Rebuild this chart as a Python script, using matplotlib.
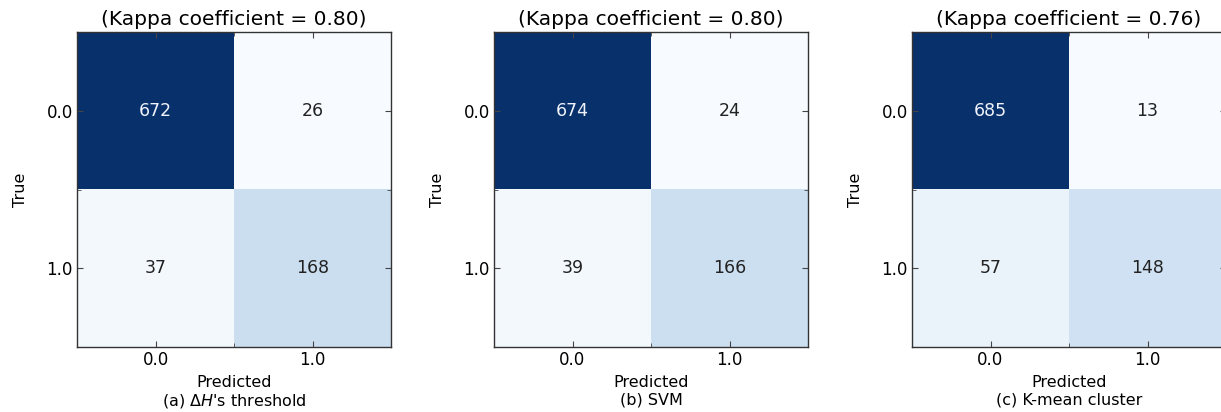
import numpy as np
import matplotlib
matplotlib.use("Agg")
from matplotlib import pyplot as plt

# Matrizes de confusão (linhas = True, colunas = Predicted)
cm_threshold = [[672, 26], [37, 168]]
cm_svm = [[674, 24], [39, 166]]
cm_kmean = [[685, 13], [57, 148]]

kappas = [0.80, 0.80, 0.76]
subtitles = ["(a) $\\Delta H$'s threshold", "(b) SVM", "(c) K-mean cluster"]
classes = ["0.0", "1.0"]

# Posições dos eixos em pixels (esquerda, topo) na imagem 1221x412
W, H = 1221, 412
lefts = [77, 494, 912]
top, ax_w, ax_h = 32, 314, 315

fig = plt.figure(figsize=(W / 100, H / 100), dpi=100)

for cm, kappa, sub, left in zip([cm_threshold, cm_svm, cm_kmean], kappas, subtitles, lefts):
    cm = np.array(cm)
    ax = fig.add_axes([left / W, (H - top - ax_h) / H, ax_w / W, ax_h / H])
    ax.imshow(cm, interpolation="nearest", cmap=plt.cm.Blues, aspect="auto")
    ax.set_title("(Kappa coefficient = %.2f)" % kappa, fontsize=14.5, pad=5)

    thresh = cm.max() / 2.0
    for i in range(cm.shape[0]):
        for j in range(cm.shape[1]):
            ax.text(j, i, str(cm[i, j]), ha="center", va="center", fontsize=12.5,
                    color="#f0f4fa" if cm[i, j] > thresh else "#222222")

    ax.set_xticks(range(len(classes)))
    ax.set_xticklabels(classes)
    ax.set_yticks(range(len(classes)))
    ax.set_yticklabels(classes)
    ax.set_xticks([0.5], minor=True)
    ax.set_yticks([0.5], minor=True)
    ax.tick_params(which="both", direction="in", top=True, right=True,
                   labelsize=12, color="#444444", length=4)
    ax.tick_params(axis="x", pad=3)
    ax.tick_params(axis="y", pad=3)
    ax.tick_params(which="minor", length=3)
    ax.set_xlim(-0.5, 1.5)
    ax.set_ylim(1.5, -0.5)
    for s in ax.spines.values():
        s.set_color("#333333")
        s.set_linewidth(1.0)

    ax.set_ylabel("True", fontsize=11.5, labelpad=13)
    ax.set_xlabel("Predicted\n" + sub, fontsize=11.5, labelpad=4, linespacing=1.2)

plt.savefig("out.png", dpi=100)
